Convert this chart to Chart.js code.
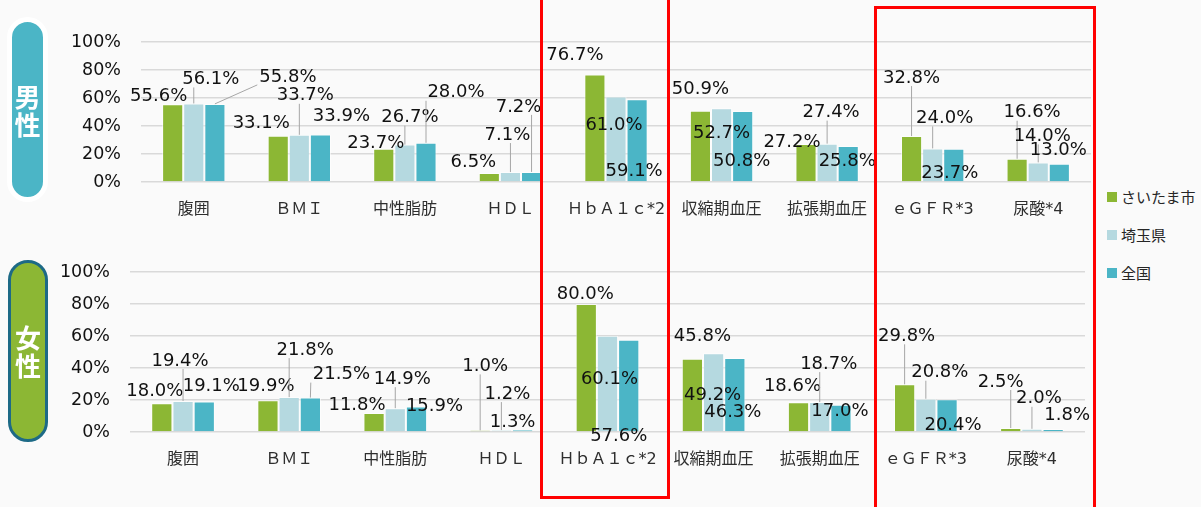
<!DOCTYPE html>
<html>
<head>
<meta charset="utf-8">
<script src="https://cdn.jsdelivr.net/npm/chart.js@4.4.1/dist/chart.umd.min.js"></script>
<style>
  body { margin: 0; background: #fafafa; width: 1201px; height: 507px; overflow: hidden; position: relative;
         font-family: "DejaVu Sans", "Noto Sans CJK JP", sans-serif; }
  canvas { position: absolute; left: 0; }
  #male { top: 0; }
  #female { top: 240px; }
  .badge { position: absolute; box-sizing: border-box; display: flex; align-items: center; justify-content: center;
           color: #fff; font-weight: bold; font-size: 26px; line-height: 28px; text-align: center;
           font-family: "Noto Sans CJK JP", sans-serif; }
  #badgeM { left: 7px; top: 17px; width: 41px; height: 185px; border-radius: 21px; border: 5px solid #fff; background: #4bb5c6; }
  #badgeF { left: 8px; top: 260px; width: 40px; height: 182px; border-radius: 20px; border: 3px solid #1d6a86; background: #8cb734; }
  .redbox { position: absolute; box-sizing: border-box; border: 3.5px solid #ff0000; }
  #legend { position: absolute; left: 1107px; top: 186px; font-size: 15px; color: #262626;
            font-family: "Noto Sans CJK JP", sans-serif; }
  #legend div { height: 38px; display: flex; align-items: flex-start; }
  #legend span { display: inline-block; width: 10px; height: 10px; margin: 6px 4px 0 0; }
</style>
</head>
<body>
<canvas id="male" width="1100" height="235"></canvas>
<canvas id="female" width="1100" height="260"></canvas>
<div class="badge" id="badgeM">男<br>性</div>
<div class="badge" id="badgeF">女<br>性</div>
<div class="redbox" style="left:540px; top:-10px; width:130px; height:509px;"></div>
<div class="redbox" style="left:874px; top:6px; width:222px; height:520px;"></div>
<div id="legend"></div>
<script>
const categories = ['腹囲', 'ＢＭＩ', '中性脂肪', 'ＨＤＬ', 'ＨｂＡ１ｃ*2', '収縮期血圧', '拡張期血圧', 'ｅＧＦＲ*3', '尿酸*4'];
const seriesNames = ['さいたま市', '埼玉県', '全国'];
const seriesColors = ['#8cb734', '#b5d9e0', '#4bb5c6'];

// 男性
const maleCity = [55.6, 33.1, 23.7, 6.5, 76.7, 50.9, 27.2, 32.8, 16.6];
const malePref = [56.1, 33.7, 26.7, 7.1, 61.0, 52.7, 27.4, 24.0, 14.0];
const maleNation = [55.8, 33.9, 28.0, 7.2, 59.1, 50.8, 25.8, 23.7, 13.0];
// 女性
const femaleCity = [18.0, 19.9, 11.8, 1.0, 80.0, 45.8, 18.6, 29.8, 2.5];
const femalePref = [19.4, 21.8, 14.9, 1.2, 60.1, 49.2, 18.7, 20.8, 2.0];
const femaleNation = [19.1, 21.5, 15.9, 1.3, 57.6, 46.3, 17.0, 20.4, 1.8];

const yMax = 100;
const yStep = 20;

// label shift from bar top (px), per category: [city, pref, nation]
const maleShift = [
  [[-14, -9], [17, -25], [73, -28]],
  [[-17, -13], [6, -40], [21, -19]],
  [[-8, -6], [5, -28], [30, -51]],
  [[-16, -12], [-3, -38], [-13, -66]],
  [[-20, -20], [-2, 28], [-3, 71]],
  [[0, -22], [0, 24], [-1, 49]],
  [[-14, -3], [4, -32], [-1, 14]],
  [[0, -59], [12, -31], [-4, 24]],
  [[15, -47], [4, -27], [-1, -14]]
];
const femaleShift = [
  [[-7, -13], [-3, -41], [7, -16]],
  [[-2, -15], [16, -48], [31, -24]],
  [[-17, -9], [7, -30], [18, -1]],
  [[5, -65], [6, -37], [-10, -9]],
  [[-1, -11], [2, 42], [-10, 95]],
  [[10, -23], [-1, 41], [-2, 53]],
  [[-6, -17], [9, -39], [-1, 6]],
  [[2, -49], [14, -27], [6, 25]],
  [[-10, -47], [7, -31], [14, -15]]
];

// legend
const legendBox = document.getElementById('legend');
seriesNames.forEach((name, i) => {
  const row = document.createElement('div');
  const sw = document.createElement('span');
  sw.style.background = seriesColors[i];
  row.appendChild(sw);
  row.appendChild(document.createTextNode(name));
  legendBox.appendChild(row);
});

// data labels with leader lines, like the spreadsheet does
const leaderLabels = {
  id: 'leaderLabels',
  afterDatasetsDraw(chart, args, opts) {
    const ctx = chart.ctx;
    ctx.save();
    ctx.font = '18px "DejaVu Sans"';
    ctx.textAlign = 'center';
    ctx.textBaseline = 'middle';
    chart.data.datasets.forEach((ds, di) => {
      chart.getDatasetMeta(di).data.forEach((bar, i) => {
        const s = opts.shift[i][di];
        const tx = bar.x + s[0], ty = bar.y + s[1];
        const txt = ds.data[i].toFixed(1) + '%';
        const hw = ctx.measureText(txt).width / 2 + 2, hh = 9;
        const px = Math.max(tx - hw, Math.min(bar.x, tx + hw));
        const py = Math.max(ty - hh, Math.min(bar.y, ty + hh));
        // only labels lifted well above the bar get a leader
        if (s[1] < 0 && Math.hypot(px - bar.x, py - bar.y) > 14.3) {
          ctx.strokeStyle = '#a6a6a6';
          ctx.lineWidth = 1;
          ctx.beginPath();
          ctx.moveTo(bar.x, bar.y);
          ctx.lineTo(px, py);
          ctx.stroke();
        }
        ctx.fillStyle = '#111';
        ctx.fillText(txt, tx, ty + 1);
      });
    });
    ctx.restore();
  }
};

function makeChart(id, values, shift, pad, axisW, axisH) {
  return new Chart(document.getElementById(id), {
    type: 'bar',
    data: {
      labels: categories,
      datasets: values.map((v, i) => ({
        label: seriesNames[i],
        data: v,
        backgroundColor: seriesColors[i],
        borderColor: 'rgba(255,255,255,0.6)',
        borderWidth: 1,
        categoryPercentage: 0.6,
        barPercentage: 1
      }))
    },
    options: {
      responsive: false,
      animation: false,
      devicePixelRatio: 1,
      layout: { padding: pad },
      plugins: {
        legend: { display: false },
        tooltip: { enabled: false },
        leaderLabels: { shift: shift }
      },
      scales: {
        x: {
          grid: { display: false },
          border: { display: false },
          ticks: { padding: 10, color: '#2e2e2e', font: { family: '"DejaVu Sans", "Noto Sans CJK JP"', size: 16 }, maxRotation: 0, autoSkip: false },
          afterFit: (sc) => { sc.height = axisH; }
        },
        y: {
          min: 0, max: yMax,
          grid: { color: '#d9d9d9', lineWidth: 1.5, drawTicks: false },
          border: { display: false },
          ticks: { stepSize: yStep, padding: 20, color: '#111', font: { family: '"DejaVu Sans"', size: 17.5 },
                   callback: (v) => v + '%' },
          afterFit: (sc) => { sc.width = axisW; }
        }
      }
    },
    plugins: [leaderLabels]
  });
}

makeChart('male', [maleCity, malePref, maleNation], maleShift, { top: 42, left: 0, right: 9, bottom: 0 }, 141, 53);
makeChart('female', [femaleCity, femalePref, femaleNation], femaleShift, { top: 32, left: 0, right: 15, bottom: 0 }, 130, 68);
</script>
</body>
</html>
